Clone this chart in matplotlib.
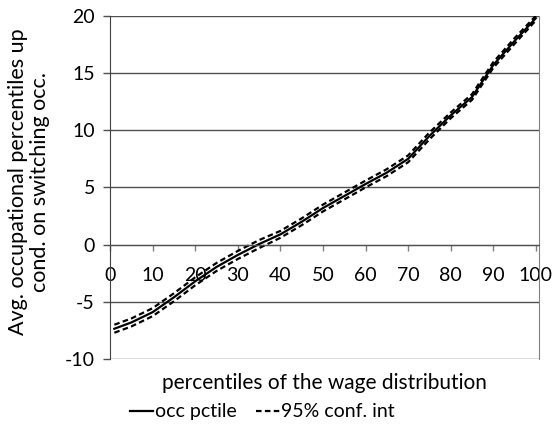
import numpy as np
import matplotlib
matplotlib.use("Agg")
import matplotlib.pyplot as plt

plt.rcParams['font.family'] = ['Lato', 'DejaVu Sans']
plt.rcParams['axes.unicode_minus'] = False

# percentiles of the wage distribution and estimates
pctile = [1, 5, 10, 15, 20, 25, 30, 35, 40, 45, 50, 55, 60, 65, 70, 75, 80, 85, 90, 95, 100]
occ = [-7.35, -6.8, -5.9, -4.6, -3.2, -1.95, -0.9, 0.05, 0.9, 2.0, 3.2,
       4.25, 5.3, 6.3, 7.5, 9.5, 11.3, 12.9, 15.7, 17.8, 19.8]
ci_lo = [-7.7, -7.15, -6.25, -4.95, -3.55, -2.3, -1.25, -0.3, 0.6, 1.7, 2.9,
         3.95, 5.0, 6.0, 7.2, 9.2, 11.05, 12.65, 15.45, 17.55, 19.6]
ci_hi = [-7.0, -6.45, -5.55, -4.25, -2.85, -1.6, -0.55, 0.4, 1.2, 2.3, 3.5,
         4.55, 5.6, 6.6, 7.8, 9.8, 11.55, 13.15, 15.95, 18.05, 20.0]

xticks = [0, 10, 20, 30, 40, 50, 60, 70, 80, 90, 100]
yticks = [-10, -5, 0, 5, 10, 15, 20]

fig = plt.figure(figsize=(5.56, 4.30), dpi=100)
ax = fig.add_axes([0.198, 0.165, 0.771, 0.798])

ax.plot(pctile, occ, color='black', lw=1.6, label='occ pctile')
ax.plot(pctile, ci_lo, color='black', lw=1.6, ls=(0, (2.5, 1.5)), label='95% conf. int')
ax.plot(pctile, ci_hi, color='black', lw=1.6, ls=(0, (2.5, 1.5)))

ax.set_xlim(0, 100.7)
ax.set_ylim(-10, 20)
ax.set_yticks(yticks)
ax.set_xticks(xticks)
ax.yaxis.grid(True, color='#505050', lw=1)
ax.set_axisbelow(True)

ax.spines['top'].set_visible(False)
ax.spines['right'].set_color('#808080')
ax.spines['left'].set_color('#404040')
ax.spines['bottom'].set_position(('data', 0))
ax.spines['bottom'].set_color('#505050')

ax.tick_params(axis='x', direction='out', length=4, width=1, color='#808080',
               labelsize=14, pad=12)
ax.tick_params(axis='y', direction='out', length=5, width=1, color='#505050',
               labelsize=14, pad=6)

fig.text(0.584, 0.109, 'percentiles of the wage distribution',
         ha='center', va='center', fontsize=15)
fig.text(0.014, 0.577, 'Avg. occupational percentiles up\ncond. on switching occ.',
         rotation=90, ha='left', va='center', fontsize=15.5, ma='center', linespacing=1.15)

fig.legend(loc='center', bbox_to_anchor=(0.472, 0.042), ncol=2, frameon=False,
           fontsize=14, handlelength=1.2, handletextpad=0.1, columnspacing=1.0)

fig.savefig('out.png', dpi=100)
